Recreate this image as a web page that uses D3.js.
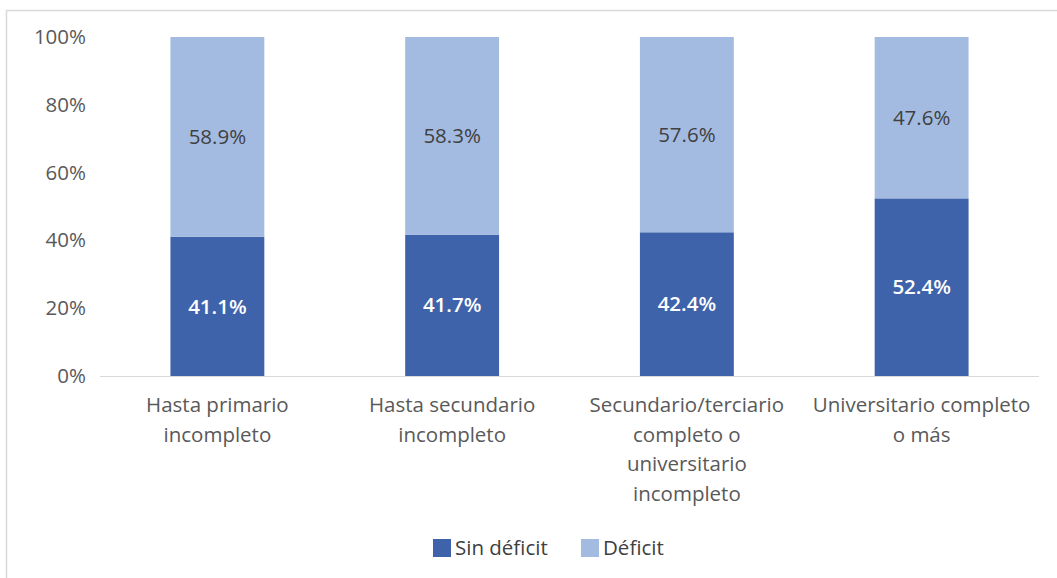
<!DOCTYPE html>
<html>
<head>
<meta charset="utf-8">
<script src="https://cdn.jsdelivr.net/npm/d3@7"></script>
<style>
  body { margin: 0; background: #fff; }
  svg { display: block; font-family: "Open Sans", sans-serif; }
</style>
</head>
<body>
<div id="viz"></div>
<script>
// datos
const categories = [
  ["Hasta primario", "incompleto"],
  ["Hasta secundario", "incompleto"],
  ["Secundario/terciario", "completo o", "universitario", "incompleto"],
  ["Universitario completo", "o más"]
];
const sinDeficit = [41.1, 41.7, 42.4, 52.4];
const deficit = [58.9, 58.3, 57.6, 47.6];
const yTicks = [0, 20, 40, 60, 80, 100];
const seriesNames = ["Sin déficit", "Déficit"];

const width = 1057, height = 578;
const colors = ["#3f63aa", "#a4bbe1"];
const fs = 20.5;

const svg = d3.select("#viz").append("svg")
  .attr("width", width)
  .attr("height", height);

// borde del grafico (solo arriba e izquierda se ven)
svg.append("path")
  .attr("d", `M6.5,${height} V10.5 H${width}`)
  .attr("fill", "none")
  .attr("stroke", "#d9d9d9")
  .attr("stroke-width", 1.5);

const x = d3.scaleBand()
  .domain(d3.range(categories.length))
  .range([100, 1039])
  .paddingInner(0.6)
  .paddingOuter(0.3);

const y = d3.scaleLinear()
  .domain([0, 100])
  .range([376, 37]);

// eje y
const yAxis = svg.append("g")
  .attr("transform", "translate(100,0)")
  .call(d3.axisLeft(y).tickValues(yTicks).tickFormat(d => d + "%").tickSize(0).tickPadding(14));
yAxis.select(".domain").remove();
yAxis.selectAll("text")
  .attr("font-size", fs)
  .attr("fill", "#595959")
  .attr("font-family", "Open Sans, sans-serif");

const stacked = d3.stack().keys([0, 1])(sinDeficit.map((v, i) => ({0: v, 1: deficit[i], i})));

stacked.forEach((layer, k) => {
  svg.append("g").selectAll("rect")
    .data(layer)
    .join("rect")
    .attr("x", d => x(d.data.i))
    .attr("width", x.bandwidth())
    .attr("y", d => y(d[1]))
    .attr("height", d => y(d[0]) - y(d[1]))
    .attr("fill", colors[k]);

  svg.append("g").selectAll("text")
    .data(layer)
    .join("text")
    .attr("x", d => x(d.data.i) + x.bandwidth() / 2)
    .attr("y", d => y((d[0] + d[1]) / 2))
    .attr("dy", "0.35em")
    .attr("text-anchor", "middle")
    .attr("font-size", fs)
    .attr("font-weight", k === 0 ? 600 : "normal")
    .attr("fill", k === 0 ? "#ffffff" : "#404040")
    .text(d => (d[1] - d[0]).toFixed(1) + "%");
});

// eje x
svg.append("line")
  .attr("x1", 100).attr("x2", 1039)
  .attr("y1", y(0) + 0.5).attr("y2", y(0) + 0.5)
  .attr("stroke", "#d9d9d9");

const xLabels = svg.append("g").selectAll("text")
  .data(categories)
  .join("text")
  .attr("x", (d, i) => x(i) + x.bandwidth() / 2)
  .attr("y", 412)
  .attr("text-anchor", "middle")
  .attr("font-size", fs)
  .attr("fill", "#595959");
xLabels.selectAll("tspan")
  .data(d => d)
  .join("tspan")
  .attr("x", function () { return this.parentNode.getAttribute("x"); })
  .attr("dy", (d, j) => j === 0 ? 0 : 29.5)
  .text(d => d);

// leyenda
const legendX = [433, 581];
const legend = svg.append("g").selectAll("g")
  .data(seriesNames)
  .join("g")
  .attr("transform", (d, i) => `translate(${legendX[i]},539)`);
legend.append("rect")
  .attr("width", 18).attr("height", 18)
  .attr("fill", (d, i) => colors[i]);
legend.append("text")
  .attr("x", 22).attr("y", 9).attr("dy", "0.35em")
  .attr("font-size", fs)
  .attr("fill", "#404040")
  .text(d => d);
</script>
</body>
</html>
